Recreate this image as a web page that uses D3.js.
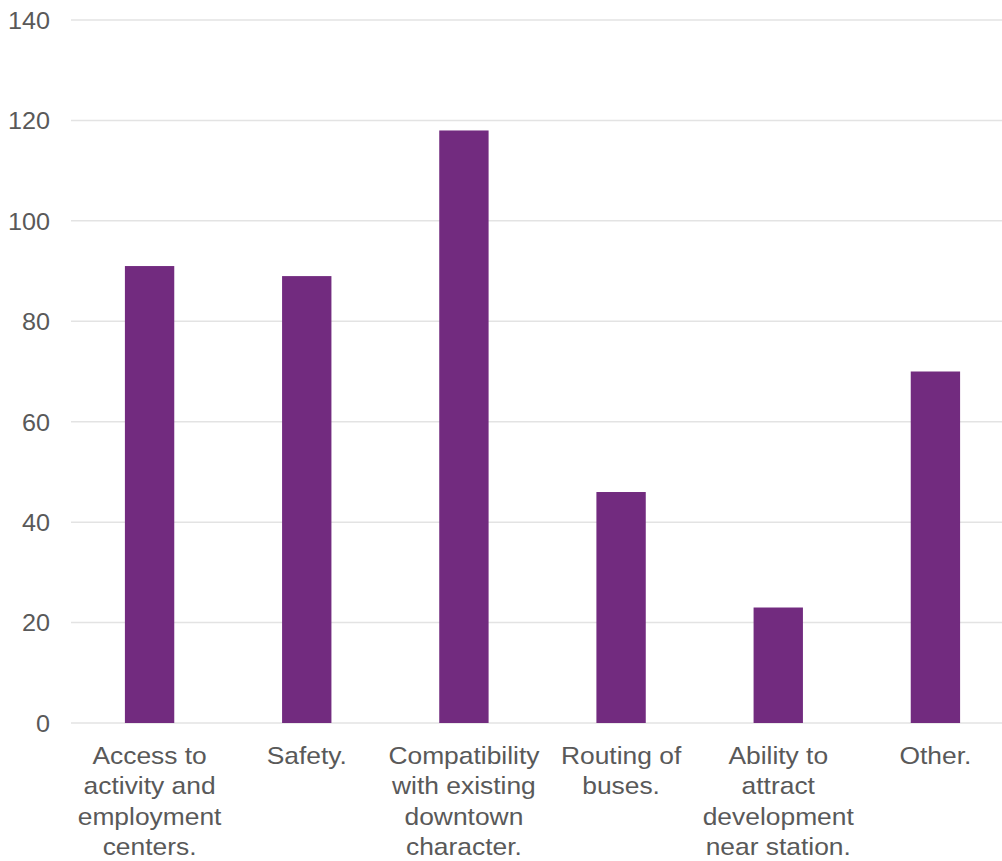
<!DOCTYPE html>
<html><head><meta charset="utf-8">
<script src="https://cdn.jsdelivr.net/npm/d3@7"></script>
<style>body{margin:0;background:#fff}svg{display:block}text{font-family:'Liberation Sans',Arial,sans-serif}</style>
</head><body>
<svg id="c" width="1002" height="861"></svg>
<script>
const categories = ["Access to activity and employment centers.", "Safety.", "Compatibility with existing downtown character.", "Routing of buses.", "Ability to attract development near station.", "Other."];
const categoryLines = [
  ["Access to", "activity and", "employment", "centers."],
  ["Safety."],
  ["Compatibility", "with existing", "downtown", "character."],
  ["Routing of", "buses."],
  ["Ability to", "attract", "development", "near station."],
  ["Other."]
];
const values = [91, 89, 118, 46, 23, 70];
const yTicks = [0, 20, 40, 60, 80, 100, 120, 140];

(function () {
const svg = d3.select("#c");
const mLeft = 71, mRight = 1014, mTop = 20, mBottom = 723;
const font = "'Liberation Sans', Arial, sans-serif";
const textColor = "#595959";
const fs = "24px";

const x = d3.scaleBand().domain(categories).range([mLeft, mRight]).paddingInner(0.686).paddingOuter(0.343);
const y = d3.scaleLinear().domain([0, 140]).range([mBottom, mTop]);

// gridlines
svg.append("g").selectAll("line").data(yTicks).join("line")
  .attr("x1", mLeft).attr("x2", 1002)
  .attr("y1", d => y(d)).attr("y2", d => y(d))
  .attr("stroke", "#e3e3e3").attr("stroke-width", 1.5);

// y axis labels
const yAxis = d3.axisLeft(y).tickValues(yTicks).tickSize(0).tickPadding(0);
const ya = svg.append("g").attr("transform", "translate(50,0)").call(yAxis);
ya.select(".domain").remove();
ya.selectAll("text").style("font-family", font).style("font-size", fs)
  .attr("fill", textColor).attr("dy", "0.35em").attr("transform", "scale(1.05,1)");

// bars
svg.append("g").selectAll("rect").data(values).join("rect")
  .attr("x", (d, i) => x(categories[i]))
  .attr("width", x.bandwidth())
  .attr("y", d => y(d))
  .attr("height", d => y(0) - y(d))
  .attr("fill", "#722B7F");

// x labels
const xl = svg.append("g");
categories.forEach((c, i) => {
  const cx = x(c) + x.bandwidth() / 2;
  const t = xl.append("g").attr("transform", `translate(${cx},764) scale(1.1,1)`)
    .append("text")
    .attr("x", 0).attr("y", 0)
    .attr("text-anchor", "middle")
    .style("font-family", font).style("font-size", fs).attr("fill", textColor);
  categoryLines[i].forEach((ln, j) => {
    t.append("tspan").attr("x", 0).attr("dy", j === 0 ? 0 : 30.4).text(ln);
  });
});
})();
</script>
</body></html>
